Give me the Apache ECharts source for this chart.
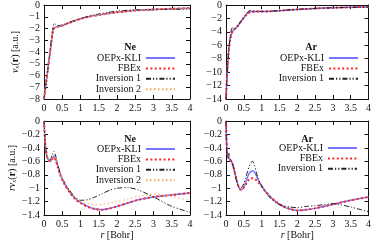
<!DOCTYPE html>
<html><head><meta charset="utf-8">
<script src="https://cdn.jsdelivr.net/npm/echarts@6/dist/echarts.min.js"></script>
<style>html,body{margin:0;padding:0;background:#fff}#c{width:374px;height:241px}</style>
</head><body><div id="c"></div>
<script>
// ---------- data ----------
const xTicks = [0, 0.5, 1, 1.5, 2, 2.5, 3, 3.5, 4];
const seriesNames = ['OEPx-KLI', 'FBEx', 'Inversion 1', 'Inversion 2'];

// Ne, v_x(r)
const neTopR    = [0, 0.05, 0.1, 0.15, 0.2, 0.25, 0.28, 0.32, 0.4, 0.5, 0.6, 0.8, 1.0, 1.25, 1.5, 1.75, 2.0, 2.5, 3.0, 3.5, 4.0];
const neTopOEP  = [-8, -6.8, -5.6, -4.4, -3.2, -2.05, -1.95, -1.88, -1.82, -1.74, -1.62, -1.38, -1.17, -0.98, -0.84, -0.72, -0.62, -0.47, -0.38, -0.32, -0.27];
const neTopFBE  = [-8, -6.8, -5.6, -4.4, -3.2, -2.1, -1.98, -1.9, -1.84, -1.76, -1.63, -1.39, -1.18, -0.99, -0.85, -0.72, -0.62, -0.47, -0.38, -0.32, -0.27];
const neTopInv1 = [-8, -6.8, -5.6, -4.4, -3.0, -1.8, -1.55, -1.68, -1.75, -1.7, -1.6, -1.35, -1.17, -0.93, -0.77, -0.63, -0.52, -0.41, -0.4, -0.37, -0.34];
const neTopInv2 = [-8, -6.8, -5.6, -4.4, -3.1, -1.95, -1.85, -1.85, -1.8, -1.72, -1.6, -1.37, -1.2, -0.99, -0.83, -0.7, -0.6, -0.45, -0.37, -0.33, -0.3];

// Ne, r v_x(r)
const neBotR    = [0, 0.03, 0.07, 0.12, 0.17, 0.22, 0.27, 0.32, 0.38, 0.45, 0.55, 0.7, 0.85, 1.0, 1.2, 1.4, 1.6, 1.8, 2.0, 2.3, 2.6, 3.0, 3.5, 4.0];
const neBotOEP  = [0, -0.3, -0.5, -0.58, -0.6, -0.56, -0.52, -0.57, -0.68, -0.8, -0.92, -1.05, -1.15, -1.21, -1.27, -1.31, -1.32, -1.3, -1.27, -1.22, -1.17, -1.13, -1.1, -1.07];
const neBotFBE  = [0, -0.3, -0.5, -0.58, -0.6, -0.57, -0.54, -0.58, -0.69, -0.81, -0.93, -1.06, -1.16, -1.22, -1.28, -1.31, -1.32, -1.3, -1.27, -1.22, -1.17, -1.13, -1.1, -1.07];
const neBotInv1 = [0, -0.3, -0.5, -0.58, -0.58, -0.5, -0.45, -0.52, -0.65, -0.78, -0.9, -1.03, -1.13, -1.18, -1.17, -1.13, -1.08, -1.03, -1.0, -0.99, -1.03, -1.13, -1.27, -1.36];
const neBotInv2 = [0, -0.3, -0.5, -0.58, -0.6, -0.55, -0.5, -0.56, -0.67, -0.79, -0.9, -1.03, -1.13, -1.2, -1.23, -1.25, -1.24, -1.22, -1.2, -1.16, -1.12, -1.09, -1.12, -1.19];

// Ar, v_x(r)
const arTopR    = [0, 0.02, 0.05, 0.08, 0.12, 0.16, 0.2, 0.25, 0.3, 0.35, 0.4, 0.45, 0.5, 0.55, 0.6, 0.65, 0.7, 0.8, 1.0, 1.25, 1.5, 2.0, 2.5, 3.0, 3.5, 4.0];
const arTopOEP  = [-14, -11.5, -8.6, -6.6, -5.0, -4.2, -3.8, -3.55, -3.3, -3.0, -2.6, -2.25, -1.9, -1.55, -1.25, -1.08, -1.0, -0.95, -0.97, -0.93, -0.85, -0.66, -0.52, -0.41, -0.33, -0.28];
const arTopFBE  = [-14, -11.5, -8.6, -6.6, -5.0, -4.2, -3.8, -3.55, -3.3, -3.0, -2.6, -2.25, -1.9, -1.6, -1.3, -1.12, -1.05, -0.98, -0.97, -0.93, -0.85, -0.66, -0.52, -0.41, -0.33, -0.28];
const arTopInv1 = [-14, -11.5, -8.6, -6.6, -4.6, -3.5, -3.4, -3.5, -3.3, -2.95, -2.55, -2.2, -1.85, -1.5, -1.1, -0.85, -0.82, -0.92, -0.96, -0.92, -0.84, -0.65, -0.5, -0.41, -0.36, -0.33];

// Ar, r v_x(r)
const arBotR    = [0, 0.01, 0.03, 0.06, 0.08, 0.1, 0.15, 0.2, 0.25, 0.3, 0.35, 0.4, 0.45, 0.5, 0.55, 0.6, 0.65, 0.7, 0.75, 0.8, 0.85, 0.9, 1.0, 1.1, 1.25, 1.4, 1.6, 1.8, 2.0, 2.25, 2.5, 3.0, 3.5, 4.0];
const arBotOEP  = [0, -0.2, -0.45, -0.54, -0.56, -0.57, -0.6, -0.66, -0.77, -0.88, -0.97, -1.02, -1.02, -0.98, -0.92, -0.84, -0.78, -0.75, -0.74, -0.76, -0.81, -0.87, -0.96, -1.04, -1.13, -1.2, -1.27, -1.31, -1.33, -1.32, -1.3, -1.24, -1.18, -1.13];
const arBotFBE  = [0, -0.2, -0.45, -0.54, -0.56, -0.57, -0.6, -0.66, -0.77, -0.88, -0.97, -1.02, -1.02, -0.99, -0.95, -0.9, -0.87, -0.85, -0.85, -0.86, -0.88, -0.91, -0.97, -1.04, -1.13, -1.2, -1.27, -1.31, -1.33, -1.32, -1.3, -1.24, -1.18, -1.13];
const arBotInv1 = [0, -0.35, -0.52, -0.55, -0.48, -0.55, -0.58, -0.68, -0.8, -0.9, -0.98, -1.0, -0.98, -0.93, -0.85, -0.76, -0.68, -0.62, -0.6, -0.66, -0.76, -0.85, -0.97, -1.06, -1.15, -1.22, -1.26, -1.28, -1.29, -1.27, -1.26, -1.23, -1.28, -1.35];

// ---------- chart ----------
const FONT = '"Liberation Serif", "DejaVu Serif", serif';
const styles = {
  'OEPx-KLI':   {color: '#7676ff', width: 1.5, type: 'solid'},
  'FBEx':       {color: '#ff2626', width: 2,   type: [2, 2.4]},
  'Inversion 1':{color: '#222222', width: 1,   type: [5, 2, 1.2, 2, 1.2, 2]},
  'Inversion 2':{color: '#ffa552', width: 1,   type: [1.5, 2.5]}
};
const zip = (r, v) => r.map((x, i) => [x, v[i]]);
const minusFmt = v => (v === 0 ? '0' : String(+v.toFixed(2)).replace('-', '\u2212'));

const grids = [
  {left: 44, top: 4,   width: 146, height: 95},
  {left: 226, top: 4,  width: 145, height: 95},
  {left: 44, top: 121, width: 146, height: 95},
  {left: 226, top: 121,width: 145, height: 95}
];
const yRanges = [[-8, 0, 1], [-14, 0, 2], [-1.4, 0, 0.2], [-1.4, 0, 0.2]];
const axisLineStyle = {lineStyle: {color: '#111', width: 1}, onZero: false};
const tickStyle = {inside: true, length: 4, lineStyle: {color: '#111'}};

const xAxes = [], yAxes = [];
grids.forEach((g, i) => {
  const isBottom = i >= 2;
  xAxes.push({
    gridIndex: i, type: 'value', min: 0, max: 4, interval: 0.5, position: 'bottom',
    axisLine: axisLineStyle, axisTick: tickStyle, splitLine: {show: false},
    axisLabel: {fontFamily: FONT, fontSize: 10, color: '#111', margin: 4},
    name: isBottom ? '{i|r} [Bohr]' : '', nameLocation: 'middle', nameGap: 14,
    nameTextStyle: {fontFamily: FONT, fontSize: 10, color: '#111',
      rich: {i: {fontFamily: FONT, fontStyle: 'italic', fontSize: 10, color: '#111'}}}
  });
  xAxes.push({
    gridIndex: i, type: 'value', min: 0, max: 4, interval: 0.5, position: 'top',
    axisLine: axisLineStyle, axisTick: tickStyle, axisLabel: {show: false}, splitLine: {show: false}
  });
  const yr = yRanges[i];
  let yname = '';
  if (i === 0) yname = '{i|v}{s|x}({b|r}) [a.u.]';
  if (i === 2) yname = '{i|r}{i|v}{s|x}({b|r}) [a.u.]';
  yAxes.push({
    gridIndex: i, type: 'value', min: yr[0], max: yr[1], interval: yr[2], position: 'left',
    axisLine: axisLineStyle, axisTick: tickStyle, splitLine: {show: false},
    axisLabel: {fontFamily: FONT, fontSize: 10, color: '#111', margin: 4, formatter: minusFmt},
    name: yname, nameLocation: 'middle', nameGap: 23, nameRotate: 90,
    nameTextStyle: {fontFamily: FONT, fontSize: 10, color: '#111',
      rich: {
        i: {fontFamily: FONT, fontStyle: 'italic', fontSize: 10, color: '#111'},
        s: {fontFamily: FONT, fontStyle: 'italic', fontSize: 7, color: '#111', padding: [5, 0, 0, 0]},
        b: {fontFamily: FONT, fontWeight: 'bold', fontSize: 10, color: '#111'}
      }}
  });
  yAxes.push({
    gridIndex: i, type: 'value', min: yr[0], max: yr[1], interval: yr[2], position: 'right',
    axisLine: axisLineStyle, axisTick: tickStyle, axisLabel: {show: false}, splitLine: {show: false}
  });
});

const panelData = [
  {r: neTopR, vals: [neTopOEP, neTopFBE, neTopInv1, neTopInv2]},
  {r: arTopR, vals: [arTopOEP, arTopFBE, arTopInv1]},
  {r: neBotR, vals: [neBotOEP, neBotFBE, neBotInv1, neBotInv2]},
  {r: arBotR, vals: [arBotOEP, arBotFBE, arBotInv1]}
];
const series = [];
panelData.forEach((p, i) => {
  p.vals.forEach((v, k) => {
    const nm = seriesNames[k];
    const st = styles[nm];
    series.push({
      name: nm, type: 'line', xAxisIndex: i * 2, yAxisIndex: i * 2,
      data: zip(p.r, v), symbol: 'none', smooth: 0.25, clip: true,
      lineStyle: {color: st.color, width: st.width, type: st.type},
      itemStyle: {color: st.color}, z: 2 + k
    });
  });
});

const legendBase = {
  orient: 'vertical', align: 'right', itemWidth: 29, itemHeight: 8, itemGap: 0.4,
  padding: 0, selectedMode: false,
  itemStyle: {opacity: 0, borderWidth: 0},
  textStyle: {fontFamily: FONT, fontSize: 10, lineHeight: 10, color: '#111', padding: [0, 0, 0, 0]}
};
const legends = [
  Object.assign({}, legendBase, {right: 198, top: 53, data: seriesNames}),
  Object.assign({}, legendBase, {right: 15, top: 53, data: seriesNames.slice(0, 3)}),
  Object.assign({}, legendBase, {right: 198, top: 144, data: seriesNames}),
  Object.assign({}, legendBase, {right: 16, top: 143, data: seriesNames.slice(0, 3)})
];

const titleText = (t, x, y) => ({type: 'text', x: x, y: y,
  style: {text: t, font: 'bold 10px ' + FONT, fill: '#111', align: 'center', verticalAlign: 'middle',
          textAlign: 'center', textVerticalAlign: 'middle'}});

const chart = echarts.init(document.getElementById('c'), null, {renderer: 'canvas'});
chart.setOption({
  animation: false,
  backgroundColor: '#fff',
  grid: grids,
  xAxis: xAxes,
  yAxis: yAxes,
  legend: legends,
  series: series,
  graphic: [titleText('Ne', 130, 47), titleText('Ar', 311, 47), titleText('Ne', 130, 139), titleText('Ar', 307, 139)]
});
</script></body></html>
